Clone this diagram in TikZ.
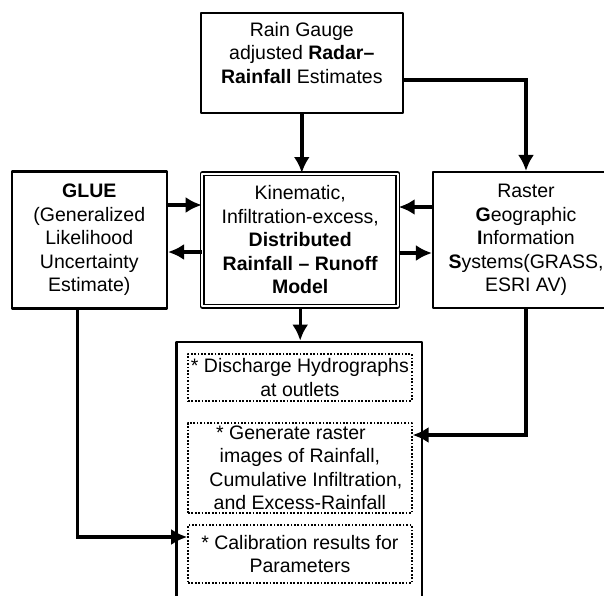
\documentclass[tikz,border=0pt]{standalone}
\usepackage{fontspec}
\setmainfont{Liberation Sans}
\usetikzlibrary{arrows.meta}

\begin{document}
\begin{tikzpicture}[line cap=round,line join=round,x=1pt,y=-1pt,
  box/.style={draw=black, line width=2.1pt, inner sep=0pt, align=center,
    font=\fontsize{19.5}{23.5}\selectfont},
  dotbox/.style={box, line width=1.7pt, line cap=butt, dash pattern=on 1.7pt off 1.7pt},
  txt/.style={align=center, inner sep=0pt, font=\fontsize{19.5}{23.5}\selectfont},
  conn/.style={line width=3.4pt, line cap=butt, line join=miter,
    -{Latex[length=16pt, width=16pt]}}]
\useasboundingbox (0,0) rectangle (604,595);
\clip (0,0) rectangle (604,595);

% input boxes
\node[box, minimum width=201.7pt, minimum height=100.3pt] (gauge) at (301.8,62.9) {};
\node[txt] (gaugetext) at (301.8,53) {Rain Gauge\\adjusted \textbf{Radar--}\\\textbf{Rainfall} Estimates};
\node[box, minimum width=155.3pt, minimum height=137pt] (glue) at (89.3,240)
  {\textbf{GLUE}\\(Generalized\\Likelihood\\Uncertainty\\Estimate)};
\node[box, line width=1.5pt, double, double distance=2pt, minimum width=195.5pt, minimum height=132.5pt] (model) at (300.2,240)
  {Kinematic,\\Infiltration-excess,\\\textbf{Distributed}\\\textbf{Rainfall -- Runoff}\\\textbf{Model}};
\node[box, minimum width=186pt, minimum height=136pt] (raster) at (526,240)
  {Raster\\\textbf{G}eographic\\\textbf{I}nformation\\\textbf{S}ystems(GRASS,\\ESRI AV)};

% output box
\node[box, minimum width=245.2pt, minimum height=270pt] (output) at (299.1,476.7) {};
\node[dotbox, minimum width=223.7pt, minimum height=46.7pt] (discharge) at (299.9,377.4)
  {* Discharge Hydrographs\\at outlets};
\node[dotbox, minimum width=223.7pt, minimum height=90pt] (maps) at (299.9,468)
  {\hspace*{-18pt}* Generate raster\\images of Rainfall,\\\hspace*{12pt}Cumulative Infiltration,\\and Excess-Rainfall};
\node[dotbox, minimum width=223.7pt, minimum height=58pt] (calib) at (299.9,554)
  {* Calibration results for\\Parameters};

% connectors
\draw[conn] (gauge.south) -- (gauge.south |- model.north);
\draw[conn] ([yshift=-17pt]gauge.east) -| (raster.north);
\draw[conn] ([yshift=35pt]glue.east) -- ([yshift=35pt]model.west);
\draw[conn] ([yshift=-12pt]model.west) -- ([yshift=-12pt]glue.east);
\draw[conn] ([yshift=33pt]raster.west) -- ([yshift=33pt]model.east);
\draw[conn] ([yshift=-13pt]model.east) -- ([yshift=-13pt]raster.west);
\draw[conn] (model.south) -- (model.south |- output.north);
\draw[conn] (raster.south) |- ([yshift=33pt]maps.east);
\draw[conn] ([xshift=-12pt]glue.south) |- ([yshift=17pt]calib.west);
\end{tikzpicture}
\end{document}
